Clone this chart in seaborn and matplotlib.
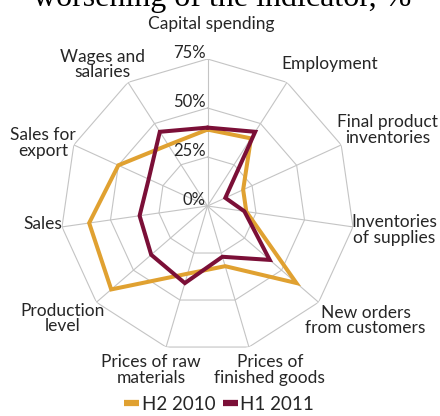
import numpy as np
import pandas as pd
import matplotlib
matplotlib.use("Agg")
import matplotlib.pyplot as plt
from matplotlib.lines import Line2D
import seaborn as sns

# Share of companies reporting a worsening, by indicator (clockwise from top)
categories = [
    "Capital spending",
    "Employment",
    "Final product\ninventories",
    "Inventories\nof supplies",
    "New orders\nfrom customers",
    "Prices of\nfinished goods",
    "Prices of raw\nmaterials",
    "Production\nlevel",
    "Sales",
    "Sales for\nexport",
    "Wages and\nsalaries",
]
h2_2010 = [39, 41, 20, 20, 60, 32, 36, 65, 61, 50, 37]
h1_2011 = [40, 45, 10, 19, 42, 27, 41, 38, 35, 33, 45]
series_names = ["H2 2010", "H1 2011"]
series_colors = ["#E0A131", "#7B0F37"]
ring_levels = [0, 25, 50, 75]
ring_labels = ["0%", "25%", "50%", "75%"]

sns.set_theme(style="white")
plt.rcParams["font.family"] = ["Lato", "DejaVu Sans"]

W, H, DPI = 440, 416, 100
fig = plt.figure(figsize=(W / DPI, H / DPI), dpi=DPI)

cx, cy, R = 207.5, 206.0, 147.0
ax = fig.add_axes([(cx - R) / W, (H - cy - R) / H, 2 * R / W, 2 * R / H],
                  projection="polar")
ax.set_theta_zero_location("N")
ax.set_theta_direction(-1)
ax.set_ylim(0, ring_levels[-1])
ax.grid(False)
ax.set_xticks([])
ax.set_yticks([])
ax.spines["polar"].set_visible(False)
ax.patch.set_alpha(0)

n = len(categories)
angles = np.linspace(0, 2 * np.pi, n, endpoint=False)
closed = np.append(angles, angles[0] + 2 * np.pi)

grid_kw = dict(color="#c4c4c4", lw=0.8, zorder=1)
for r in ring_levels[1:]:
    ax.plot(closed, [r] * len(closed), **grid_kw)
for a in angles:
    ax.plot([a, a], [0, ring_levels[-1]], **grid_kw)

# Closed polygons for each half-year
rows = []
for name, vals in zip(series_names, [h2_2010, h1_2011]):
    vv = list(vals) + [vals[0]]
    for k, (t, v) in enumerate(zip(closed, vv)):
        rows.append({"theta": t, "value": v, "period": name, "order": k})
df = pd.DataFrame(rows)
sns.lineplot(data=df, x="theta", y="value", hue="period", units="period",
             estimator=None, sort=False, palette=series_colors,
             hue_order=series_names, linewidth=2.9, legend=False, ax=ax,
             zorder=3)
for line in ax.get_lines()[-2:]:
    line.set_solid_joinstyle("miter")
ax.set_xlabel("")
ax.set_ylabel("")

text_color = "#262626"
# Category labels, offset (pixels) from the outer end of each spoke
label_offsets = [(4, 35), (43, 18), (46, 15), (41, -3), (47, -18), (21, -23),
                 (-15, -23), (-34, -16), (-19, 3), (-31, 2), (-26, 18)]
for a, lab, off in zip(angles, categories, label_offsets):
    ax.annotate(lab, xy=(a, ring_levels[-1]), xytext=off,
                textcoords="offset pixels", ha="center", va="center",
                multialignment="center", fontsize=12.5, color=text_color,
                linespacing=0.95, annotation_clip=False)

for r, lab in zip(ring_levels, ring_labels):
    ax.annotate(lab, xy=(0, r), xytext=(-2, 6), textcoords="offset pixels",
                ha="right", va="center", fontsize=12, color=text_color,
                annotation_clip=False)

fig.text(33 / W, 1 - 6 / H, "worsening of the indicator, %",
         family="Liberation Serif", fontsize=23, ha="left", va="baseline",
         color="black")

handles = [Line2D([], [], color=c, lw=4.5, solid_capstyle="butt")
           for c in series_colors]
fig.legend(handles, series_names, loc="center", bbox_to_anchor=(219 / W, 1 - 404 / H),
           ncol=2, frameon=False, fontsize=13.5, handlelength=0.8,
           handletextpad=0.15, columnspacing=0.4, labelcolor=text_color)

fig.savefig("out.png", dpi=DPI, facecolor="white")
